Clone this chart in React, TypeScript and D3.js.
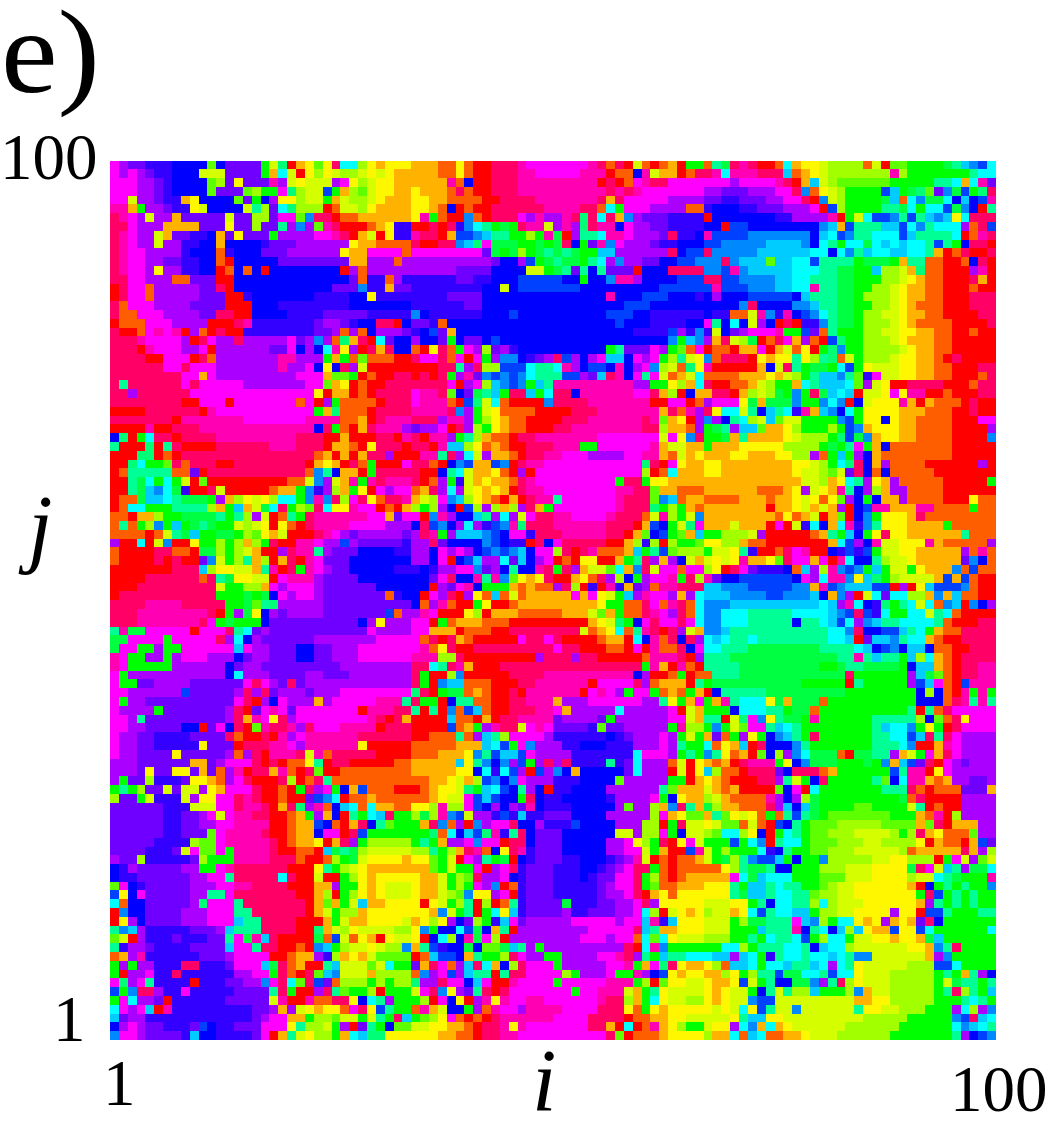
import React from "react";
import * as d3 from "d3";

// Phase (hue) per cell. One letter per cell; rows run j=100 (top) to j=1.
const hueCodes: Record<string, number> = {
  r: 0, o: 22, O: 42, y: 58, Y: 70, L: 82, l: 98, g: 120, G: 135, s: 148, S: 155, c: 180, C: 192,
  a: 208, A: 225, b: 240, B: 252, v: 266, V: 280, m: 300, M: 318, P: 336,
};

const topLeft = [
"mVvvBBBbbbblbvvvvgYsrOylyPccLyOyyy",
"mVmVvBBbbbYYYvvvvgOcYryLyYLLYyYyOO",
"mmmVVvBbbbblLvyvvvMVYyYYYVpyLYyyOO",
"mmmVVvBbbbblvvvlLggmsLYYAgOLlYyyOO",
"mmYVVvBBOybbbblvgbVyyLYYgOYLLYyOOO",
"MMOgVVvBByYbbbbYSLvcsLLLroYYLyOOOO",
"PMmVYVVOvvvvvYvvLLvmmlaPProoOOOOOO",
"PPmVVVOOOOvvvyvvLvvSVaVlMPrrroOyBB",
"PMmVVYOvvBBbOvyvvvgVVVVmmMPrOYryBB",
"PMmVVYVVBBbbObbbbBvvvVVVVVVyOOoooo",
"PMmmVVVVBbbboBbbbvvvVVVVVVyOOmmmmo",
"PMmmVVvvBBbborbbbbbvvvvvvvvOOVVVoV",
"PMmmVyVVBBbbrobobrbbbbbbbbrVoVVVVV",
"PPmmVVVoovvvrrbbbbbbbbbbbbbvoBBoVB",
"rPmmoVVVVVvvPrbbbbbbbbbbbvvvaBBOvv",
"rPmmoVVVVVvvvrrBbbbbbbbBBBBbbyBBBB",
"PommmVVVVvvvvrrrbbbBBBBBBBBbbbbbbb",
"PoommmVVVVvvPPrrbbbbBBBBvvvvvBBBBB",
"rooommmVVVVrrrPMBBBBBBBvVVvBbbPPrb",
"PrromMmMrVorPrrBBBBBBBBvvVoVobVVVv",
"PPPMmmmmVrPmVVPVVVVVmvVaVosOPrcvbb",
"PPPrMmmmVVmrVVVVVVvvmbVbcMyVrPOPbb",
"PPPPrrmmmrPoVVVVVVVMMVVVgOgolooorr",
"PPPPPPmmPmmmVVVVVVVMVVmbybPVYrrrrr",
"PPPPPPPPmmOmVVVVVVVVVmmmOllgrorrPP",
"PSPPPPPPmPmmmmmVVVVVVVmmlOyrorrPPP",
"PPVPPPPPPmmmmmmmmmmmmmmyrOOrorPPPP",
"PPPPPPPPrrmmmrmmmmmmmomrVgoooorPPP",
"rrrrPPPPPPrMmmmmmmmmmmmgOsooorPPPP",
"PPPPPPPrMMMMMMMmmmmmmmMMMMooOrPMMM",
"rrrrMrrPPPMMMMMMMMMMMMMbPgorOPMMMV",
"bsrgcPPrPPPPMMMMMMMMMPPPrrOrrrPPrM",
"SrrrsrSPrrrrPPPPPPMMMPPPrOOoryPPPr",
"rrrssrorPPPPPPPPPPPPPPPoOrOrOPPVrr",
];

const topMid = [
"OOOooyorrPPPMmmmmmmmMPoPrYoroOrg",
"OOOooyorrPPPMMmmmmmMMMroobMYOOroP",
"OOOOMobrrPPPMMMMMMMMMrPromMPPmmmm",
"yOOOoPorrPPPMMMMMMMMMMPMPMmmmmmmm",
"yyOOoooorrPPPPMMMMMMMPOPmmmmmVVVV",
"yyOobrorrPPPPPPMMMMPPocgmmmVVVVoo",
"yMgorraorPPPmVMVVMPsPcPOaVvvvBBBB",
"rrPrPBacSgGgPMMYVMVsPMMbmVVvvBBBB",
"MPPrOAAaCSSggLgMGrVSScMMmVVVvPBBb",
"PrrPPaCsmGGGggGgGPbgvMamVVVvBBbbb",
"mmmmmmmmvGgGLgGSGSGggCCVVVVVVPbAA",
"VVVVVVVVVvbbVAgGSGGgScVaVVvvbbAAa",
"VVVVVvvvvbbbbYYgGSvSbSvvvrbbbPPPP",
"BBBBBvvBBbbbAAAAAbbgbbaMMVbbbbAAA",
"BBBBBBBBbbYbAAAAAAAbbbbbbbbbAAAAA",
"BBBBvvvvbbbbbbbbbbbbbbMbbbAAAbbbB",
"BBBBBBvvbbbbbbbbbbbbbbbbAAAbbbbbb",
"abBBBBBBbbbAbbbbbbbbbbAAAbbBBBBBB",
"vvBobbbbbbbbbbbbbbbbbbbAbbbBBBBbb",
"BbAvObbbbbbbbbbbbbbbbbbbbBBBBAVBa",
"VbbvgbvvbAbbbbbbbbbbbbbbbbbbbagCa",
"oryPogmVLvVBbbbbbbbbbbgSvvvmVglom",
"PmmPomrmgVaabBvVPAVbVmCCbmVmgLSYy",
"rrrPPSVPLLAAAcSScMVbAAbMbVmaLYosy",
"rPrPgVMvaAaAacSSSAAVvCPMbmSmYoOYc",
"PPPPmrVmLCaAagCSMMMMMMMMMVVggyLOc",
"mMMPlbvGSCgPPCgcPPbMMMMMMmmPOLrbO",
"mMMMorAsYcorrrraPPPPMMMMMMMrrmmro",
"MMMMPaVgYyoooorrrrPPPMMMMMMMOPoMV",
"PPPVMMVgLyOoorrrrPPPMMMMMMPMlOyrV",
"vVVmrPVLgyOoorrrPPMMMMMMMMPPLOOoV",
"PrMMVgSLOoorPPMMMMMMMmmmmmmmYmyaP",
"PPrMCCLyoOorrPPPMMMggmmmmmmMOYYOO",
"rMMSPVcYVOOorPPMMmmmVVVVmmMMOoYOy",
];

const topRight = [
"oSGPMPrrocOyyYLLLLoYrllggggGSCaAc",
"PMcMMMPPPCoOyYLLLLLLLMLgggggggScc",
"mmmVmmmmMPrOCYLllllllgggggSScOcMv",
"VVvvvVVVmmPaoyYLggggACgGslvaGAgsP",
"vvBBvvvVVmmPraYLggggGCocaGGcbCbAM",
"BbbbBBvvvVVVmrALggggSSGcgccAGabrS",
"rbbbbbbbBBVVVVMrgYcAAaSASCaCycPPP",
"bbrAAbbbbbbbbaCOASSSCCAcaScccVoPA",
"MAAAAaaaaaaabCcAaSScccACSSSScroMP",
"AAaaaaaCCCCabcSgccGcCcCccSASgbPPr",
"PaaaaaCCCCCCccbcaSCccCCccSOroPrrP",
"aaPaCCClCCccASSSSgGGGgOSSoorrobPr",
"aaAMaCCCCCcccSSGGggCLLYOsoorrrVMr",
"PPAAaaaaCCccSSSGGgggLLYyOoorrrPOr",
"AMAAAaaaCCccMSSGGggLLYyOOoorrrorr",
"bVbbbAAAAAbCSSSGGgLLLYyOOoorrrPPP",
"bbbbaPbbbbaaCSSGGggLLYyOooorrrPPP",
"bBBooYMaBMbAacSGGgLLYYyOOoorrrrPP",
"mSbcbYVbrPrBBaSGGgLLLYyOoooorrrrP",
"BYbvVmmmMggAvoSgggLLYYyyOOoorrorr",
"VOPYLGroPmOVorAsggLLLYyOOOoorrrrr",
"roorOOmrOYoyrgsaggLLLLYyOOoorrrrr",
"aoPPPryOyySyLSsoYgLLLYyyOOorPrrrr",
"MrrrrrObYPSgGGgcAgyYYYyyOOoorrrPP",
"ooooOOOyOYLgSCCaSlBmYYyyOOoorrroP",
"PrrooOYLggOcSCCCclVYyrrPPPPrrroPP",
"OPPrOLYLGgagPGCcCrYYymyMMrrorrrPP",
"VmmmyGOGGGaggacarbYyyyMOrOooorPrr",
"PyccYSbCScBMOCabcgyyyyOOOooorrPrr",
"aVbScLYClYYggggaAgyybyOOoooorrrmm",
"gGSVCClOOyLgggLgAaOyyyOOoooorrrrV",
"ggGOSOOOOyYLLLgsAGaOyyOOoooorrrra",
"gOOOyyyyyLLLLgGgSmgObooooooorrrrr",
"OOOyyOOOyyLLVogCgVbOoooooooorrrrr",
];

const middleLeft = [
"rrscgglPoPPPrrPPPPPPPPrOyOrPogrrrm",
"roSSSSSoovrPPPPPPPPPPPoaSbOOrgPPPP",
"rrSGcgcgYrlrrrrrrrrrooYaVYOMgMPMMM",
"rrSGCacGBrrPYrrrrroOOgaBVLOgyrmVmm",
"rooGCCcSGGGgVOLyYyLccgaMaPLmPyoPPM",
"roccgggSSSSLOgCOYGcPgLlPcyyMmmrorO",
"oorOOLggGGGGSgSLVYroSgPMMMMMMmmOvm",
"oSogLagCgGSGggYLYyryorPMMMMmmmmVVV",
"ooooroYSGCggGGgLlyOYrrrPMmVvVVVVVv",
"VrrcrYarryggLgLOLgPrrMMmVVAVvvvvvB",
"orrrrPPoorGGLgLYOrrVPMMSVvvvbbbbBB",
"orrrrPrPrrvaYgLSOLrOPrMmvvvbbbbbbb",
"rrrrrrrPPPCLyyYYOSMrPgMmVvvbbbbbBB",
"rrrrPPPPPPoPSGyyYYrmMMMVvvvvbbbbbb",
"rrrPPPPPPPPPYggLLOmVmmmVvvvvvvbbbb",
"rPPPPPPPPPPPgggGgGbmVmmVvvvvvvvoBb",
"PPPPMMMMPPPPPggGlSsVVVVVvvvvvvvvvv",
"PPPMMMMMMMMPrgVGybVvVVVVvvvvvvvAoV",
"PPPMMMMMMMPmgGgggbvvvvvvvvvvbVyVVV",
"SMGGmmmmmrmmmPScvVvvvvvvvvvvvmVVVV",
"GGmmmmgmmmmmPVcbVvvvvvvVVVVVVVmmmm",
"GmmggVggmmmmmmCmVVvvvbbvvVVVmmmmmm",
"MmggVVgVmmmVVVbvVVvvvbbvvVVVmmmmmm",
"MmgggggVVVVVVbvVVvvvvvvvvvVVVVVVVV",
"mgVVVVVVVVVVVbcVVVvvvvVVvvvVVVVVVV",
"mggvvVVVVvvvvvvmPmVvPvVVVVVVVVVVVV",
"mmVVVVVVAvvvvvVPVPvVVVvVVVmmmmmmmm",
"mgVVvvvvvvvvvvmPrVbmVVVOVmmmmmMMMS",
"mVVVVgvvvvvvvVPrvmMmvmmmmmmmrMMMPP",
"mmVSvvvvvvvvvVPOMmyPVmmmmmmmmMPrPO",
"mmVVvvvvbbrvmbPrlMPPMVPmmmMMMMrPPP",
"mVVvvBBBBvvvvPorrPrMVmMMMMMMPPPPPP",
"mVVvvBBBBByvvvrPPPMMmVMMMMMMyrrrrr",
];

const middleMid = [
"PPorbaAOOAarPMMmmmmmmmmmmmsPrmyOO",
"PrrbScYOOyorVrmmmmmmmmmmmmLrocOOO",
"ProVgBYOyOOoPMmmmmmmmmmgPPgyyOOO",
"oOPVcVYyOyOrPMMmmmmmmmmMMPPlOOooo",
"OYLmaCLyOorOrPMMSmmmmmmMPPPlaCoOO",
"LgLVbrALVLOLVPOgmmmmmmmMPPPsgLgOo",
"mraMVbbCSVcVYmPPMMmmmmMPPPoYMLgYa",
"bPAabVcVBAaMsPPPMMMMMMPPPrOAbgYsm",
"VPMgVCCCaAbmmBPPPMMMMMPPrOlbAglOC",
"VVPvbbbbaAbBBrPbmPPPPPrrOLBLrLggl",
"VVbmVmVbAaAaCbmmLPrPMoooOCgSAlLLL",
"VVbmrbACVVcvCbVmroryyrrOgSPVOVbYO",
"BbBVVmmavVbSbbMPgPVOYYlcOaPYmmomm",
"bbvmPbbMSMalyOyPrrOyoPVLbgVmmMgPL",
"bbrVvmMbgggOoOooVPLrBrMBOvVoMMPPP",
"brmVPrVyoCoYoOOOOOmOmyYgCVMmmVOVc",
"boVMorrgyrroOOOOOOOOOyggooPmoMPoc",
"VMmrrryLrOOOoooooOOOYlOgooPMmVPoc",
"mmrgoOOOooorrrrrrrrrOyYsgbmPmmPmc",
"mmOOOrooorrPPPPPPPPYoOycoSMPrPVYO",
"moPrPOorrrrrmPPmPrrrroOOrcbMoPbPV",
"mMoyPrrPPPPPPPPPmPPrrroormrMooPbm",
"MMMLLPrrrrrrrrVPPPVPPrrrrroMMMPrV",
"PPcSPMOrrrPPPPPPPPPPPPPPPPgMOrMor",
"PgrrLarrrrrPPPPMMMMMMMMMMbVrrogro",
"PgraCCooorrrPPMMMMMMrmmmmPVoOOOrS",
"sPrgGGoOorrPrMMMMMMrmMmVgmmgoOogO",
"PggrbSSoorrPPMMMOVVVmmmmmmVVSygOm",
"SrSraoACorrPPPMMmOVVVVVcVVVVVmrYO",
"rrrrCoorOrPPMMMMvVVVVvgVVVVVVmmYO",
"rrrrAoOgVMPPYmMmvvvvBlvvVVVVVgMLL",
"rroooSoVCSLmmmmVBBBBBBbBvVVVmVgYg",
"oooooOOOCcAgmaVVVBBbbbBBBVVVmVSgg",
];

const middleRight = [
"yyOOOOOOOOyyYLgcsPbOVoooorrrrrrVr",
"yyOOOOOOOOyYYLlYvPbobooooorrrrrrr",
"OOOOOOOOOOOYYLOycSVyOVooooorrrrrg",
"OOOOOOoooOyVYyOMSbVLOVVoooorrrrrr",
"ooooOOOoOOyYyoylVbgbOOVoooorrryoo",
"OOOOOOOrOOyYOYOVrbAMMOOOMMoooogoo",
"OOOOOOOOoyoOYrOlrbagyyyOPoooooooo",
"OOOYOOOrmrYBcbOcMBaSyyyOOOOgooooo",
"ggLLLYVrrrrroOSgCbgyPyyOOOOOOSooo",
"yyLLOoorrrrrrrOcAVbMYYyyyMOoooooV",
"gYYySBrroPmMrrbBABAgYYyyOOOOOVoMo",
"YyYyMOOylPmmOmrMcbbSLYYyOOOOOvabo",
"LyrPmvBBBboCVLMaAagCgYYgyOOOaoAoo",
"MvbbAAAAAAbmVcMMayCsgLYYYYOAOAorr",
"CCaaaAAAAAaaOMAaCCCAArVryCAAAaorr",
"CCCaaaaAAaaaCbOaVrYcvccLLOaOCoorr",
"aaaCCCCCCCCCCcCVMcbBsgScYcoaCrabV",
"aacccSSSSSccccCaAPABcggccYScorrrr",
"aacccSSSSSbSScCAcVaCSSccccSorrrPP",
"aaCSSSSSSSSSSSccaPbbAACScgOooPPPP",
"cCcSScSSSSSSSSccCrvCCaSccOorrPPP",
"ccSSSGGGGGGGGSSSScCbAabCCboorrPPP",
"SSSGGGGGGGGGGGGSSMSCSSgCLcOorPPPP",
"SSSSGGGGGGGGGggGSSGGGGgbCCOorPPMM",
"oSSSGGGGGGGGGGGGPggggggVCGlorPPMM",
"gGGGGGGGGGGgggggrSgggggVACmorAMMM",
"rbSSSSSGGGGGGGGGggggggggbLborMgMg",
"gOMScccyGOGGGoggggggggggbbboPMSMS",
"gggbcccSSgGGoggggggggggSrSoPmmmm",
"SSrYsmaySGGgMggggggSSSSSLbloPymmm",
"gagYlmmSCcSggggggggSCccagygrPmmmm",
"OvogVygbaCSgPggggggSSccACPSPmVVVV",
"coyOCrPbbbaSgggggggSSScarrOMmVVVV",
];

const bottomLeft = [
"mVVvvvvyvvvvvVoVPrMMMPYMoPPPPPrrrr",
"VVVvvvvvvOOvVmmmPrProoySrPPrrrrroo",
"VVVvyvvyyvOvoVMrPPOMorPlrroooooooo",
"VgvvLBBBvyyOoVmPrrrPLroPSooooooooo",
"gSgLvvYvYYVyOmmmPrrorgPVmgbOAooorr",
"LvvgYBBBYVyymmPMPrrorrvAacrooOoooo",
"vvvvvvBBBYYYmmPMMPrOPsVMobCcocOOo",
"vvvvvvBBvvVmYmMMPPrroOgVObrSgcCPgg",
"vvvvvvBBvvVVmmMMMMrroOOAborOPbSlgg",
"vvvvvvBBvvvlmMMMMPrroOObmmrPAggggg",
"vvvvvBBBBLllmMMMMMProOOyrOPVgLLLLL",
"vvvvBBBvYmllmgMMMMPrroorCGSGLYYYYY",
"VvvLBBBBBvLgggMMMMPPPorroLgGYyyyyO",
"bBVvvvvvVVggmMPPPPPPrrrySgLYyOOOOO",
"bBBvvvvvvVVmmSPPPPPcPrrYrrgLyOyyyy",
"lmbBvvvvvVVVmmMMPPPPrrrOOVggyOyYYY",
"AybmvvvvvVVSSmPPPPPPPrrOLrgLyOyYYY",
"cobbvvvvvVsmmmSPPPPPPPrOlOgYCOOyyy",
"rabbvvvvVVVmmmSSPPPPPPrOYgLLOyyyyy",
"ryVbvvvvVVVmmmCSSPPPPrrrOgYOOyyyyY",
"SaCVBBBBBvvvVCSSSPPPPrrsOYLyYYYYLL",
"lYrVBBBvBBBvvSmGMCPrrrrGoAYoyOryYY",
"SBVVvBBBBvvvvCmmSPPrroraCgLYYyYLLa",
"oOVMBBBBBBvvvVmmmmrroOOVBLOyOYllll",
"gVgVVBBBPPBBBvmmmCGPoOrrSCYYYlYcgg",
"grVVmBBPBBBBBBVVmmgPorPlCaYYYOLLLL",
"msVmSBBBBrBBBvvVVamPclPAvoLLLgLgLL",
"AgaPPVBBmBBBBBvvvvSPgrrVPSlggLrggg",
"gmcVVvrBBBBBBvvvvvYMrrMooPPybcSVgg",
"cmVmCrMBBBBBBBBBvvVOVYyOyyomPyASgg",
"CvVVBBBBBBBBBBBBvVmmOOgLLlYYgYSgPC",
"bVmVvvBBBvAbBBvvvmmmySLLYgVrvSgbll",
"ammVvvvvBCbbBBBBvmrOSYyLLgOcCssyyy",
];

const bottomMid = [
"oooOOOyaSACCAmVVVVBBBBBBBcmmmVgSg",
"OOOOOCySabaVAgVPVPBBBBSBvcVVVoYry",
"OOOOOyybcBcAVrAVabObbbbbvcVVVrYry",
"ooOOyYOLAabamVVVBBBbbbblVVVVVggrO",
"roOyyYsgCcAbSVbrBBbbbbVVVVVVSlOOO",
"ooOyYYmACAbbgPbBBbbbbbBVVVVmgbyOO",
"yyLMLLmAbVbVvMbBBBbbbbbVlVVLOaPSO",
"LGLMaAYVVBABCBBvvvbbbbVVVVVLmOyll",
"gOPaoVraVmmPbbVBBBAbbbbVVVLLrgPYY",
"ggsocbCAsMBSPbvvvbbbbbbYYVLLmgbYY",
"gSgOVVmammrPPbvvvbbbbbVVmyLgPrymY",
"LLSgLOPMobyPMBvvvbbbbbVVmmYgOrrAM",
"yylgYrmVSgGrbBvvvBBbbbBvVMYrorooO",
"OOlgYggmrVmPBvvvBBBbbBvVmPPgorooo",
"yOOYgLlPVVmbBvvvBBBbBvvmmPgLoroOO",
"yOOYgLgmVaroBvvvBBBBBvVmmPglooOOO",
"yOOYLlayyVmrBvvvBBBBBvVVmPrOyoyyy",
"yryYgLSrLroSBvvvvGBBBvvVVmPVyyyyy",
"yyOaYgSrgcyCBvvvvVBBvvvVVmcLrYyOy",
"OyLyVbvLgBCmvVVVVVmmmmmVmmCMBCyyy",
"yagbbcAGbOSrVVVVVVVVmmmmmPCSOOyyy",
"yrbcLbMGmLrVVVVVVVVmmmVmmoclcyYYY",
"OSABbbGbllGCSVgVVVVVVVVVPrcMagggg",
"roCAAbOSggLPmVVggVVVVmmMPVSgCSScc",
"vOPmoVCPcObLPmmmgVVVVVmmMgOmsPyOO",
"oaVmAVCSSrSPPmmmmLgVVVmggMVbAyOyy",
"sVVPmmbCmrrMmmmmgmmmmmMMMgLrlyyYY",
"YmPayVvSPrPmmmmmmmgmmMMMYOgSyYYYY",
"gLrmbyrVMyMmmMMmmmmmmMPPLOgcyYYLL",
"oMOYbbgVoMmmVMMMMmmmmPPPyogyOyyyy",
"glLymororPMMMMMMmmmmPPPProoOOyyYY",
"YYyyOOorPPMyMmmmmmmmPPOrcroMOyLg",
"yyyOOoorPPMMmmmmmmmmmmPlroooOyyyy",
];

const bottomRight = [
"aSyoOrlbLVacGGGorGGSSVOYgmOPmVVVV",
"OoOrPMMMgybaGGGgggGgaOCAvPrmVvVVV",
"CLoorPPPvbPPPoOggggggASMMrymVVVVV",
"yOorrrPPVSYgbPgggggSlbcMMOoOVVvvV",
"YOoOrrrrlbmrcgggggggSSSPorooovvvO",
"LYOooooMVbVLGgggggggggGoPrrrrVVVV",
"GLOOoooPVCbCGggggllggggYSrorrVVVV",
"OSlyYyogoSASGglllllllgggOoMrLVVVV",
"yYlloYorAbSglllLLLLLllllOlPrOOOVV",
"LlccLybrgcSgllLLLYYYYLgLPOyooolVV",
"gggAgcarSccglllLLLYYLLLLyrOoorOAv",
"YgLgggcBbSggllLLLYYYYYLoOOOOOPOVL",
"YgGLSaAACgbggaLLLLLYYyyLLLrgmYVlY",
"ooyLSGGSbbgggLLLYYYyyyyGPmYCSVGGc",
"OOOmcGCcccggglllYYYyyyyLYYcSGgggM",
"yyySgCCScSSgglLYYyyyyyyOrbgSgSgga",
"yyySGCCSccSSlLLYYyyyyyyygPAgSgSgg",
"YYYyygSbccSSLcLYYYyyyyyyOVSgSgSgg",
"LYYOycASccCCgLLYYyyyyVyyrAASgggSS",
"YYYgLGGSSSmCaLgccyOyVOyOvPbgggggg",
"YYYgggCSSSMbScbCLCyOOAyyAcggggggc",
"LLLggSgcSScAgLccgYYyyOyyOGCgggggg",
"ggccLgSSSccSbCccLYYYYYYyyOaSPgggg",
"cCCVCcgBSccSccCcSaaYYYYYYOVaggggg",
"yLoCCcgccCSSCcVcSyYYYYYLLLAAcgggg",
"OOLygLSSAGGccSAccyYYYLLLLLgSgOSVb",
"yOOyAYgSbbGGaVSPLyYYYLLLLLgYGSSgS",
"yOyYYgbSYSLLCgggLaOYYLLLLLgSPLSgC",
"yOyYYaAAYYYYYYYYYOOyyLLLLLgggScSg",
"yYyYcyASYYaYYYYYYSyyYYLLLgggVcLVa",
"YYYySCCyyYYYYYYYYYLLLLLgggggaAPCc",
"YyyVcaOcOyYYYYYYLLLLLLggggggcaCcS",
"LOOcoCcooOOyYYYLLLLLLgggggggSVbAa",
];

const xTickLabels = ["1", "100"];
const yTickLabels = ["100", "1"];
const panelLabel = "e)";
const xAxisLabel = "i";
const yAxisLabel = "j";

const fit = (s: string, n: number) => s.slice(0, n).padEnd(n, s[s.length - 1]);
const joinBand = (a: string[], b: string[], c: string[]) =>
  a.map((s, k) => fit(s, 34) + fit(b[k], 33) + fit(c[k], 33));
const grid = [
  ...joinBand(topLeft, topMid, topRight),
  ...joinBand(middleLeft, middleMid, middleRight),
  ...joinBand(bottomLeft, bottomMid, bottomRight),
];

const plot = { left: 110, right: 996, top: 160.5, bottom: 1040 };
const indices = d3.range(1, 101);
const x = d3.scaleBand<number>().domain(indices).range([plot.left, plot.right]);
const y = d3.scaleBand<number>().domain([...indices].reverse()).range([plot.top, plot.bottom]);
const colour = (code: string) => d3.hsl(hueCodes[code] ?? 300, 1, 0.5).formatHex();

const serif = "'Liberation Serif', 'Times New Roman', serif";

export default function App() {
  return (
    <svg
      width={1048}
      height={1125}
      style={{ position: "absolute", left: 0, top: 0, background: "#fff" }}
      fontFamily={serif}
    >
      <g shapeRendering="crispEdges">
        {grid.map((row, r) =>
          indices.map((i, c) => (
            <rect
              key={`${r}-${c}`}
              x={x(i)}
              y={y(100 - r)}
              width={x.bandwidth() + 0.3}
              height={y.bandwidth() + 0.3}
              fill={colour(row[c])}
            />
          ))
        )}
      </g>
      <text x={1} y={92} fontSize={118} textLength={99} lengthAdjust="spacingAndGlyphs" fill="#000">{panelLabel}</text>
      <text x={0} y={179} fontSize={65} fill="#000">{yTickLabels[0]}</text>
      <text x={53} y={1041} fontSize={65} fill="#000">{yTickLabels[1]}</text>
      <text x={103} y={1105} fontSize={65} fill="#000">{xTickLabels[0]}</text>
      <text x={950} y={1111} fontSize={65} fill="#000">{xTickLabels[1]}</text>
      <text x={532} y={1110} fontSize={88} fontStyle="italic" fill="#000">{xAxisLabel}</text>
      <text x={28} y={556} fontSize={88} fontStyle="italic" fill="#000">{yAxisLabel}</text>
    </svg>
  );
}
